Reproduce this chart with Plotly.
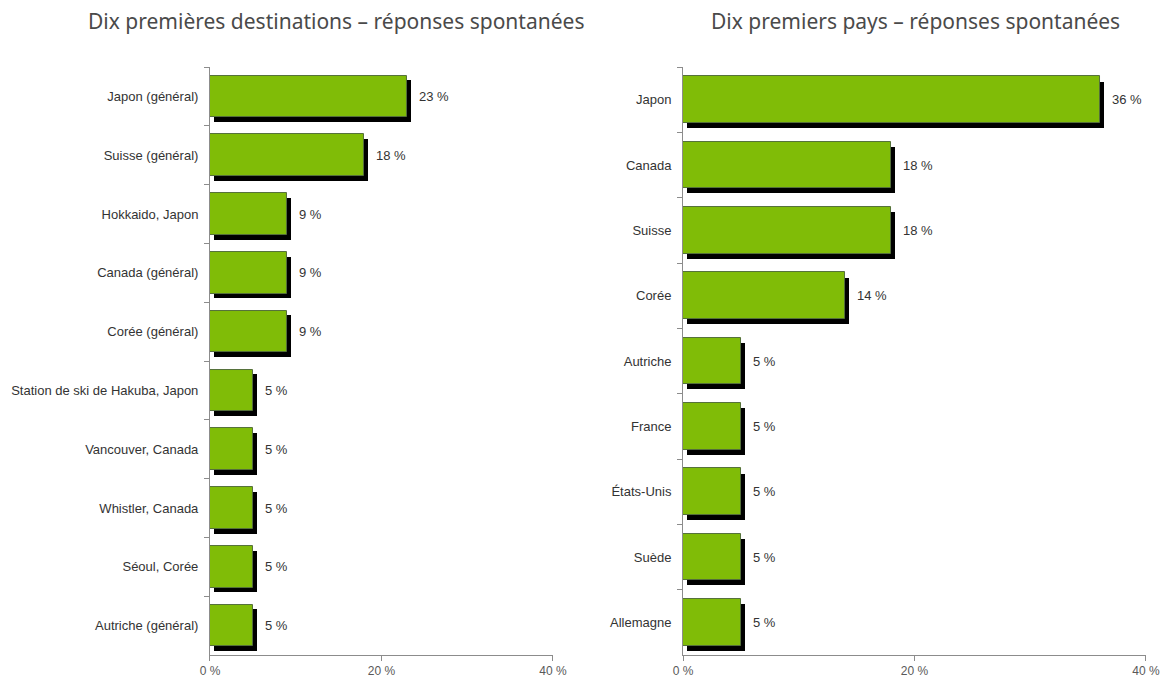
import plotly.graph_objects as go

# Destinations (left panel)
dest_labels = ["Japon (général)", "Suisse (général)", "Hokkaido, Japon", "Canada (général)",
               "Corée (général)", "Station de ski de Hakuba, Japon", "Vancouver, Canada",
               "Whistler, Canada", "Séoul, Corée", "Autriche (général)"]
dest_values = [23, 18, 9, 9, 9, 5, 5, 5, 5, 5]

# Countries (right panel)
pays_labels = ["Japon", "Canada", "Suisse", "Corée", "Autriche", "France",
               "États-Unis", "Suède", "Allemagne"]
pays_values = [36, 18, 18, 14, 5, 5, 5, 5, 5]

x_ticks = [0, 20, 40]
x_ticktext = ["0 %", "20 %", "40 %"]

title_left = "Dix premières destinations – réponses spontanées"
title_right = "Dix premiers pays – réponses spontanées"

GREEN = "#80bc07"
EDGE = "#55703a"
BAR_W = 0.71
SANS = "Liberation Sans, Arial"

fig = go.Figure()


def add_panel(labels, values, xa, ya, shadow_dx):
    # drop shadow behind each bar
    fig.add_trace(go.Bar(
        y=labels, x=values, orientation="h", base=shadow_dx,
        width=BAR_W, offset=-BAR_W / 2 + 0.08,
        marker=dict(color="black", line=dict(width=0)),
        xaxis=xa, yaxis=ya, hoverinfo="skip", showlegend=False))
    fig.add_trace(go.Bar(
        y=labels, x=values, orientation="h",
        width=BAR_W, offset=-BAR_W / 2,
        marker=dict(color=GREEN, line=dict(color=EDGE, width=1)),
        xaxis=xa, yaxis=ya, showlegend=False))
    for lab, v in zip(labels, values):
        fig.add_annotation(x=v, y=lab, xref=xa, yref=ya, text=f"{v} %",
                           showarrow=False, xanchor="left", xshift=10,
                           font=dict(family=SANS, size=13, color="#333"))


add_panel(dest_labels, dest_values, "x", "y", 0.45)
add_panel(pays_labels, pays_values, "x2", "y2", 0.35)

axis_common = dict(showline=True, linecolor="#8c8c8c", linewidth=1,
                   ticks="outside", tickcolor="#8c8c8c", ticklen=5,
                   showgrid=False, zeroline=False, automargin=False,
                   tickfont=dict(family=SANS, size=12, color="#595959"))
yaxis_common = dict(showline=True, linecolor="#8c8c8c", linewidth=1,
                    ticks="outside", tickcolor="#8c8c8c", ticklen=5,
                    tickson="boundaries", showgrid=False, zeroline=False,
                    autorange="reversed", ticklabelstandoff=8, automargin=False,
                    tickfont=dict(family=SANS, size=13, color="#333"))

fig.update_layout(
    width=1175, height=677,
    margin=dict(l=0, r=0, t=0, b=0),
    paper_bgcolor="white", plot_bgcolor="white",
    barmode="overlay", bargap=0,
    xaxis=dict(domain=[0.1787, 0.4706], range=[0, 40], tickvals=x_ticks,
               ticktext=x_ticktext, anchor="y", **axis_common),
    yaxis=dict(domain=[0.0325, 0.901], anchor="x", **yaxis_common),
    xaxis2=dict(domain=[0.5813, 0.9753], range=[0, 40], tickvals=x_ticks,
                ticktext=x_ticktext, anchor="y2", **axis_common),
    yaxis2=dict(domain=[0.0325, 0.901], anchor="x2", **yaxis_common),
)

title_font = dict(family="Noto Sans, Open Sans", size=21, color="#4a4a4a")
fig.add_annotation(x=336 / 1175, y=1 - 21 / 677, xref="paper", yref="paper",
                   text=title_left, showarrow=False, font=title_font,
                   xanchor="center", yanchor="middle")
fig.add_annotation(x=915 / 1175, y=1 - 21 / 677, xref="paper", yref="paper",
                   text=title_right, showarrow=False, font=title_font,
                   xanchor="center", yanchor="middle")

fig.write_html("out.html")
